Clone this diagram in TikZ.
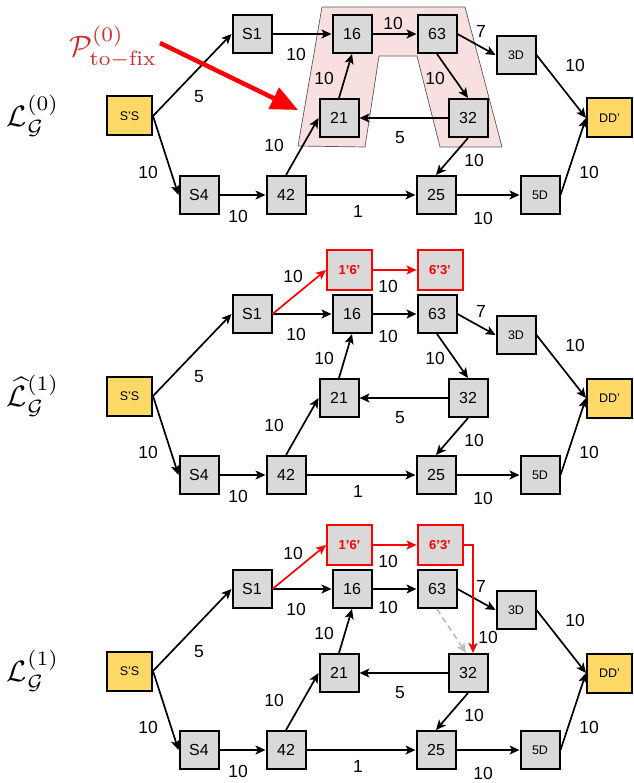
\documentclass[tikz,border=0pt]{standalone}
\usepackage{fontspec}
\usepackage{amsmath}
\usetikzlibrary{arrows.meta}
\newfontfamily\arial{Liberation Sans}

\definecolor{boxgray}{RGB}{217,217,217}
\definecolor{srcyellow}{RGB}{255,217,102}
\definecolor{fixpink}{RGB}{248,224,224}
\definecolor{fixred}{RGB}{214,40,40}
\definecolor{ghostgray}{RGB}{190,190,190}

\tikzset{
	vtx/.style={draw,line width=2pt,fill=boxgray,minimum width=39pt,minimum height=38pt,inner sep=0pt,font=\arial\fontsize{16}{16}\selectfont},
	small/.style={font=\arial\fontsize{12.5}{12.5}\selectfont},
	term/.style={vtx,fill=srcyellow,minimum width=45pt,minimum height=39pt,font=\arial\fontsize{12.5}{12.5}\selectfont},
	fixvtx/.style={vtx,draw=red,minimum width=45pt,minimum height=40pt,text=red,font=\arial\bfseries\fontsize{13}{13}\selectfont},
	wt/.style={inner sep=0pt,font=\arial\fontsize{17.5}{17.5}\selectfont},
	arc/.style={-{Stealth[length=10pt,width=9pt,inset=2.5pt]},line width=1.7pt},
	fixarc/.style={arc,red},
	ghost/.style={arc,ghostgray,dash pattern=on 6pt off 4pt},
	layerlabel/.style={inner sep=0pt},
	fixlabel/.style={inner sep=0pt,text=fixred},
	bigarrow/.style={-{Triangle[length=27pt,width=23pt]},line width=4.5pt,red},
}
\newcommand{\bigmath}[1]{\scalebox{2.95}{$#1$}}

% the part of the graph that all three layers share
\newcommand{\layergraph}{%
	% nodes...................
	\node[term] (ss) at (129.5,116) {S’S};
	\node[vtx] (s1) at (252,34) {S1};
	\node[vtx] (s4) at (199,195) {S4};
	\node[vtx] (n42) at (286,195) {42};
	\node[vtx] (n16) at (352,34) {16};
	\node[vtx] (n63) at (437,34) {63};
	\node[vtx] (n21) at (339,118) {21};
	\node[vtx] (n32) at (468,118) {32};
	\node[vtx] (n25) at (436,195) {25};
	\node[vtx,small] (d3) at (516,55) {3D};
	\node[vtx,small] (d5) at (540,195) {5D};
	\node[term] (dd) at (609.5,118) {DD’};
	% edges...................
	\draw[arc] (ss.east) -- (s1.west);
	\draw[arc] (ss.east) -- (s4.west);
	\draw[arc] (s1) -- (n16);
	\draw[arc] (s4) -- (n42);
	\draw[arc] (n42.north) -- (n21.west);
	\draw[arc] (n21.north) -- (n16.south);
	\draw[arc] (n16) -- (n63);
	\draw[arc] (n63.east) -- (d3.west);
	\draw[arc] (n32) -- (n21);
	\draw[arc] (n32.south) -- (n25.north);
	\draw[arc] (n42) -- (n25);
	\draw[arc] (n25) -- (d5);
	\draw[arc] (d3.east) -- (dd.west);
	\draw[arc] (d5.east) -- (dd.west);
	% weights.................
	\node[wt] (wss1) at (199,97) {5};
	\node[wt] (wss4) at (148,172) {10};
	\node[wt] (ws1) at (296,54) {10};
	\node[wt] (ws4) at (238,216) {10};
	\node[wt] (w42) at (274,145) {10};
	\node[wt] (w21) at (324,78) {10};
	\node[wt] (w3d) at (481,31) {7};
	\node[wt] (w32a) at (400,138) {5};
	\node[wt] (w32b) at (474,160) {10};
	\node[wt] (w25a) at (358,211) {1};
	\node[wt] (w25b) at (483,218) {10};
	\node[wt] (wdd3) at (575,65) {10};
	\node[wt] (wdd5) at (589,172) {10};
}

\begin{document}
\begin{tikzpicture}[x=1pt,y=-1pt]
	\useasboundingbox (0,0) rectangle (633,783);

	% layer 0.....................
	\begin{scope}[name prefix=a-]
		\fill[fixpink,draw=gray!70!black,line width=.7pt] (322,7) -- (465,7) -- (502,147) -- (440,147) -- (417,56) -- (379,56) -- (365,147) -- (298,146) -- cycle;
		\layergraph
		\draw[arc] (n63.south) -- (n32.north);
		\node[wt] (w16) at (393,23) {10};
		\node[wt] (w63) at (435,78) {10};
		\node[layerlabel] (lab) at (33,116) {\bigmath{\mathcal{L}^{(0)}_{\mathcal{G}}}};
		\node[fixlabel] (pfix) at (113,47) {\bigmath{\mathcal{P}^{(0)}_{\mathrm{to-fix}}}};
		\coordinate (tail) at (160,43);
		\coordinate (tip) at (298,110);
		\draw[bigarrow] (tail) -- (tip);
	\end{scope}

	% layer 1 (estimate)..........
	\begin{scope}[name prefix=b-,shift={(0,280)}]
		\layergraph
		\draw[arc] (n63.south) -- (n32.north);
		\node[wt] (w16) at (388,56) {10};
		\node[wt] (w63) at (435,78) {10};
		\node[fixvtx] (f16) at (349.5,-10) {1’6’};
		\node[fixvtx] (f63) at (440,-10) {6’3’};
		\draw[fixarc] (s1.east) -- (f16.west);
		\draw[fixarc] (f16) -- (f63);
		\node[wt] (wf16) at (293,-4) {10};
		\node[wt] (wf63) at (388,6) {10};
		\node[layerlabel] (lab) at (33,116) {\bigmath{\widehat{\mathcal{L}}^{(1)}_{\mathcal{G}}}};
	\end{scope}

	% layer 1.....................
	\begin{scope}[name prefix=c-,shift={(0,555)}]
		\layergraph
		\draw[ghost] (n63.south) -- ([xshift=-2pt]n32.north);
		\node[wt] (w16) at (388,52) {10};
		\node[wt] (w63) at (488,82) {10};
		\node[fixvtx] (f16) at (349.5,-10) {1’6’};
		\node[fixvtx] (f63) at (440,-10) {6’3’};
		\draw[fixarc] (s1.east) -- (f16.west);
		\draw[fixarc] (f16) -- (f63);
		\draw[fixarc] (f63.east) -| ([xshift=5pt]n32.north);
		\node[wt] (wf16) at (293,-2) {10};
		\node[wt] (wf63) at (388,6) {10};
		\node[layerlabel] (lab) at (33,116) {\bigmath{\mathcal{L}^{(1)}_{\mathcal{G}}}};
	\end{scope}

\end{tikzpicture}
\end{document}
